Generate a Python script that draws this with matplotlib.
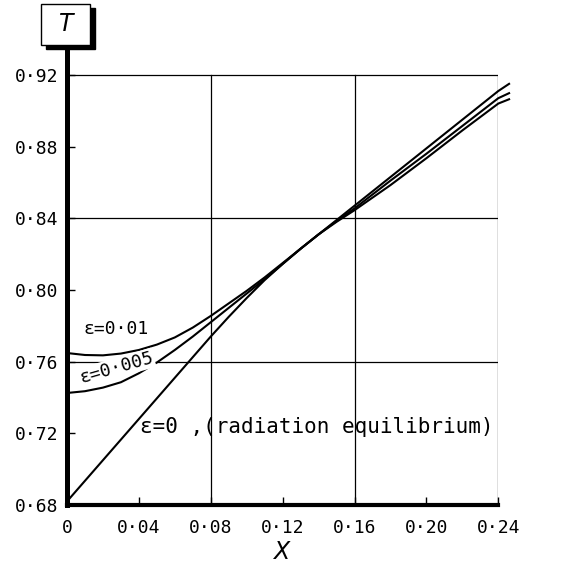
import matplotlib
matplotlib.use("Agg")
import matplotlib.pyplot as plt
from matplotlib.patches import Rectangle

# values
x = [0, 0.01, 0.02, 0.03, 0.04, 0.05, 0.06, 0.07, 0.08, 0.09, 0.10, 0.11,
     0.12, 0.13, 0.14, 0.15, 0.16, 0.18, 0.20, 0.22, 0.24, 0.246]
T_eps0 = [0.682, 0.6935, 0.705, 0.7165, 0.728, 0.7395, 0.751, 0.7625, 0.774,
          0.785, 0.7955, 0.8055, 0.8145, 0.823, 0.831, 0.839, 0.847, 0.863,
          0.879, 0.895, 0.911, 0.915]
T_eps005 = [0.7425, 0.7435, 0.7455, 0.7485, 0.7535, 0.7595, 0.7665, 0.774,
            0.782, 0.790, 0.798, 0.806, 0.8145, 0.823, 0.831, 0.8385, 0.8455,
            0.861, 0.876, 0.8915, 0.907, 0.9098]
T_eps01 = [0.7648, 0.7637, 0.7635, 0.7645, 0.7665, 0.7695, 0.7735, 0.779,
           0.7855, 0.7925, 0.7995, 0.807, 0.815, 0.823, 0.831, 0.838, 0.8445,
           0.8585, 0.8735, 0.889, 0.904, 0.9064]

xticks = [0, 0.04, 0.08, 0.12, 0.16, 0.20, 0.24]
xlabels = ["0", "0·04", "0·08", "0·12", "0·16", "0·20", "0·24"]
yticks = [0.68, 0.72, 0.76, 0.80, 0.84, 0.88, 0.92]
ylabels = ["0·68", "0·72", "0·76", "0·80", "0·84", "0·88", "0·92"]
grid_x = [0.08, 0.16, 0.24]
grid_y = [0.76, 0.84, 0.92]

plt.rcParams['font.family'] = ['DejaVu Sans Mono', 'DejaVu Sans']

fig = plt.figure(figsize=(5.66, 5.65), dpi=100)
ax = fig.add_axes([67/566, 60/565, (498.3-67)/566, (505-48)/565])
ax.set_xlim(0, 0.24)
ax.set_ylim(0.68, 0.935)

for gx in grid_x:
    ax.plot([gx, gx], [0.68, 0.92], color='black', lw=0.9, zorder=1)
for gy in grid_y:
    ax.plot([0, 0.24], [gy, gy], color='black', lw=0.9, zorder=1)

for T in (T_eps0, T_eps005, T_eps01):
    ax.plot(x, T, color='black', lw=1.5, clip_on=False, zorder=3)

ax.spines['top'].set_visible(False)
ax.spines['right'].set_visible(False)
ax.spines['left'].set_linewidth(3.6)
ax.spines['bottom'].set_linewidth(3.0)

ax.set_xticks(xticks)
ax.set_xticklabels(xlabels)
ax.set_yticks(yticks)
ax.set_yticklabels(ylabels)
ax.tick_params(direction='in', length=6, width=1, labelsize=13)
ax.tick_params(axis='x', pad=10)
ax.tick_params(axis='y', pad=6)

ax.text(0.009, 0.7782, "ε=0·01", fontsize=13, ha='left', va='center')
ax.text(0.0275, 0.7565, "ε=0·005", fontsize=13, ha='center', va='center',
        rotation=16, rotation_mode='anchor', zorder=4,
        bbox=dict(boxstyle='square,pad=0.05', fc='white', ec='none'))
ax.text(0.0405, 0.7235, "ε=0 ,(radiation equilibrium)", fontsize=15,
        ha='left', va='center', zorder=4)

fig.text(281/566, 1 - 552/565, "X", fontsize=17, style='italic',
         family='DejaVu Sans', ha='center', va='center')

# boxed T label with shadow
bx, by, bw, bh = 41/566, 1 - 45/565, 49/566, 41/565
fig.add_artist(Rectangle((bx + 5/566, by - 4/565), bw, bh,
                         transform=fig.transFigure, fc='black', ec='black'))
fig.add_artist(Rectangle((bx, by), bw, bh, transform=fig.transFigure,
                         fc='white', ec='black', lw=1.0))
fig.text(66/566, 1 - 24/565, "T", fontsize=17, style='italic',
         family='DejaVu Sans', ha='center', va='center')

fig.savefig("out.png", dpi=100)
